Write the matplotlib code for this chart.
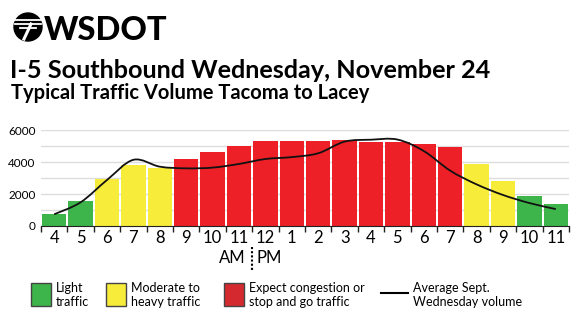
import numpy as np
import matplotlib.pyplot as plt
from matplotlib.patches import Rectangle, Ellipse, PathPatch
from matplotlib.path import Path
from matplotlib.lines import Line2D

plt.rcParams['font.family'] = ['Lato', 'DejaVu Sans']

hours = ['4', '5', '6', '7', '8', '9', '10', '11', '12', '1', '2', '3', '4', '5', '6', '7', '8', '9', '10', '11']
volume = [770, 1570, 2970, 3850, 3640, 4200, 4660, 5035, 5330, 5330, 5330, 5390, 5265, 5245, 5140, 4975, 3910, 2800, 1860, 1400]
level = ['light', 'light', 'moderate', 'moderate', 'moderate', 'heavy', 'heavy', 'heavy', 'heavy', 'heavy',
         'heavy', 'heavy', 'heavy', 'heavy', 'heavy', 'heavy', 'moderate', 'moderate', 'light', 'light']
avg_sept = [735, 1485, 2885, 4150, 3720, 3615, 3660, 3890, 4200, 4320, 4560, 5290, 5410, 5420, 4700, 3470, 2610, 1945, 1440, 1060]

colors = {'light': '#3db54a', 'moderate': '#f7ec3a', 'heavy': '#ed2027'}
W, H = 580, 322

fig = plt.figure(figsize=(W / 100, H / 100), dpi=100)
ax = fig.add_axes([41 / W, 1 - 226 / H, (569 - 41) / W, (226 - 130.3) / H])

x = np.arange(len(hours))
ax.bar(x, volume, width=0.93, color=[colors[l] for l in level], zorder=2)

# smooth line (catmull-rom drawn as bezier curves)
pts = np.column_stack([x, avg_sept]).astype(float)
verts = [pts[0]]
codes = [Path.MOVETO]
for i in range(len(pts) - 1):
    p0 = pts[max(i - 1, 0)]
    p1 = pts[i]
    p2 = pts[i + 1]
    p3 = pts[min(i + 2, len(pts) - 1)]
    verts += [p1 + (p2 - p0) / 6, p2 - (p3 - p1) / 6, p2]
    codes += [Path.CURVE4] * 3
ax.add_patch(PathPatch(Path(verts, codes), fill=False, lw=1.3, edgecolor='#111111', zorder=3))

ax.set_xlim(-0.5, len(hours) - 0.5)
ax.set_ylim(0, 6000)
ax.set_yticks([0, 2000, 4000, 6000])
ax.set_yticks(np.arange(1000, 6001, 1000), minor=True)
ax.yaxis.grid(True, which='both', color='#dddddd', lw=1, zorder=0)
ax.tick_params(axis='y', which='both', length=0, labelsize=8.5, pad=4)
ax.set_xticks(np.arange(len(hours) + 1) - 0.5)
ax.set_xticklabels([])
ax.set_xticks(x, minor=True)
ax.set_xticklabels(hours, minor=True)
ax.tick_params(axis='x', which='major', length=4, width=1, color='#222222')
ax.tick_params(axis='x', which='minor', length=0, labelsize=12, pad=3)
for s in ['top', 'right', 'left']:
    ax.spines[s].set_visible(False)
ax.spines['bottom'].set_color('#222222')
ax.set_axisbelow(True)

# AM / PM
fig.text(246 / W, 1 - 258 / H, 'AM', ha='right', va='center', fontsize=12)
fig.text(257 / W, 1 - 258 / H, 'PM', ha='left', va='center', fontsize=12)
fig.add_artist(Line2D([251.5 / W, 251.5 / W], [1 - 247 / H, 1 - 270 / H], color='black', lw=1.5, ls=(0, (1, 1))))

# header logo
fig.add_artist(Ellipse((28 / W, 1 - 27 / H), 28 / W, 28 / H, transform=fig.transFigure, color='black'))
for yy in [20, 24]:
    fig.add_artist(Line2D([15 / W, 41 / W], [1 - yy / H, 1 - yy / H], color='white', lw=1.3))
fig.add_artist(Line2D([31 / W, 24 / W], [1 - 24 / H, 1 - 39 / H], color='white', lw=2.2))
fig.add_artist(Line2D([20 / W, 36 / W], [1 - 28 / H, 1 - 28 / H], color='white', lw=1.3))
fig.text(44 / W, 1 - 39.5 / H, 'WSDOT', fontsize=23.5, fontweight='black', ha='left', va='baseline')

fig.text(10 / W, 1 - 78.5 / H, 'I-5 Southbound Wednesday, November 24', fontsize=18.2, fontweight='bold',
         ha='left', va='baseline')
fig.text(11 / W, 1 - 99 / H, 'Typical Traffic Volume Tacoma to Lacey', fontsize=14.5, fontweight='bold',
         ha='left', va='baseline')

# legend
legend_items = [(31, 'light', 'Light\ntraffic'), (106, 'moderate', 'Moderate to\nheavy traffic'),
                (224, 'heavy', 'Expect congestion or\nstop and go traffic')]
for px, key, label in legend_items:
    fc = colors[key] if key != 'heavy' else '#d42a2f'
    fig.add_artist(Rectangle((px / W, 1 - 306 / H), 20 / W, 23 / H, transform=fig.transFigure,
                             facecolor=fc, edgecolor='#444444', lw=1))
    fig.text((px + 25) / W, 1 - 295 / H, label, fontsize=9, ha='left', va='center', linespacing=1.3)
fig.add_artist(Line2D([381 / W, 408 / W], [1 - 293 / H, 1 - 293 / H], color='black', lw=1.5))
fig.text(413 / W, 1 - 295 / H, 'Average Sept.\nWednesday volume', fontsize=9, ha='left', va='center',
         linespacing=1.3)

fig.savefig('out.png', dpi=100)
